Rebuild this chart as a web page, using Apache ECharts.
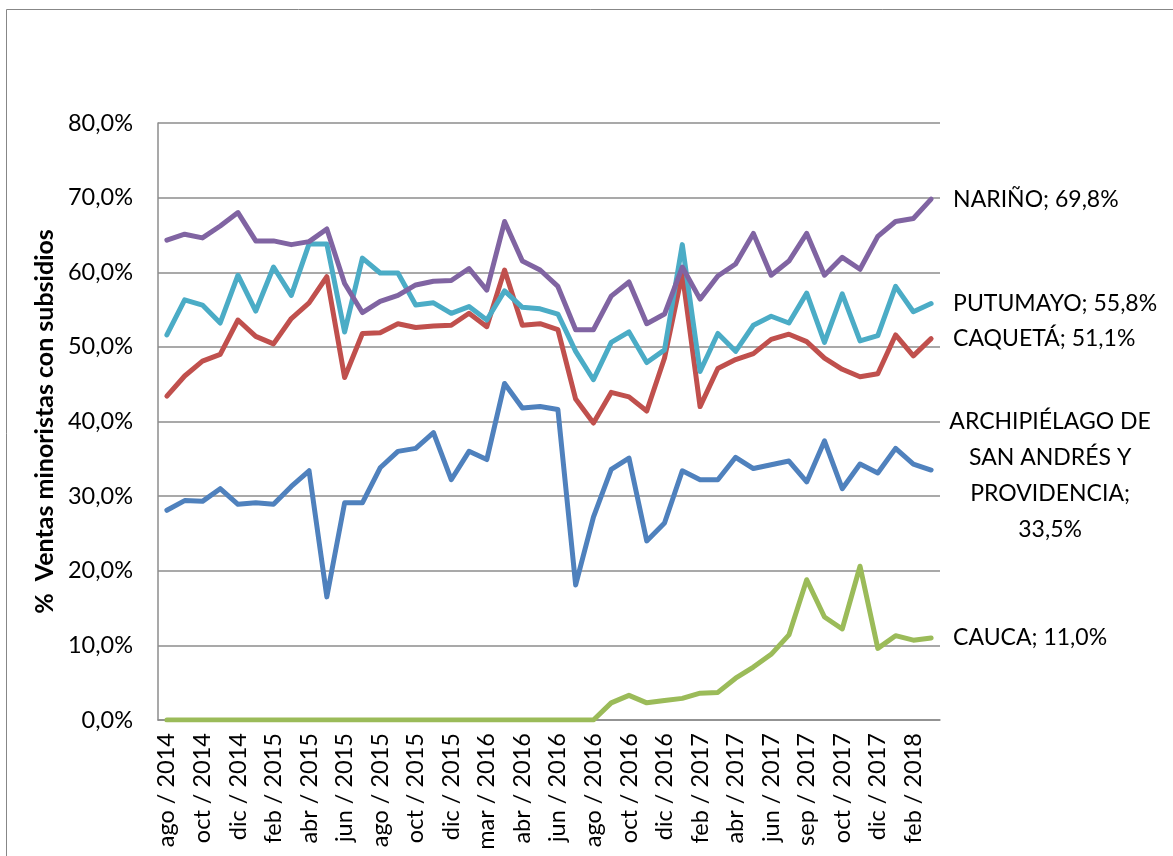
<!DOCTYPE html>
<html>
<head>
<meta charset="utf-8">
<title>Ventas minoristas con subsidios</title>
<script src="https://cdn.jsdelivr.net/npm/echarts@6/dist/echarts.min.js"></script>
<style>
  html, body { margin: 0; padding: 0; background: #fff; }
  #chart { width: 1173px; height: 856px; }
</style>
</head>
<body>
<div id="chart"></div>
<script>
// meses (solo se muestra uno de cada dos)
const months = [
  'ago / 2014', 'sep / 2014', 'oct / 2014', 'nov / 2014', 'dic / 2014', 'ene / 2015',
  'feb / 2015', 'mar / 2015', 'abr / 2015', 'may / 2015', 'jun / 2015', 'jul / 2015',
  'ago / 2015', 'sep / 2015', 'oct / 2015', 'nov / 2015', 'dic / 2015', 'feb / 2016',
  'mar / 2016', 'mar / 2016', 'abr / 2016', 'may / 2016', 'jun / 2016', 'jul / 2016',
  'ago / 2016', 'sep / 2016', 'oct / 2016', 'nov / 2016', 'dic / 2016', 'ene / 2017',
  'feb / 2017', 'mar / 2017', 'abr / 2017', 'may / 2017', 'jun / 2017', 'jul / 2017',
  'sep / 2017', 'sep / 2017', 'oct / 2017', 'nov / 2017', 'dic / 2017', 'ene / 2018',
  'feb / 2018', 'mar / 2018'
];

const narino = [
  64.3, 65.1, 64.6, 66.2, 68.0, 64.2, 64.2, 63.7, 64.1, 65.8, 58.5, 54.6,
  56.1, 56.9, 58.3, 58.8, 58.9, 60.5, 57.6, 66.8, 61.5, 60.3, 58.1, 52.3,
  52.3, 56.8, 58.7, 53.1, 54.4, 60.7, 56.4, 59.5, 61.1, 65.2, 59.6, 61.5,
  65.2, 59.6, 62.0, 60.4, 64.8, 66.8, 67.2, 69.8
];
const putumayo = [
  51.6, 56.3, 55.6, 53.2, 59.6, 54.8, 60.7, 56.9, 63.8, 63.8, 52.0, 61.9,
  59.9, 59.9, 55.6, 55.9, 54.5, 55.4, 53.6, 57.5, 55.3, 55.1, 54.4, 49.4,
  45.6, 50.6, 52.0, 47.9, 49.6, 63.7, 46.7, 51.8, 49.4, 52.9, 54.1, 53.2,
  57.2, 50.6, 57.1, 50.8, 51.5, 58.1, 54.7, 55.8
];
const caqueta = [
  43.4, 46.1, 48.1, 49.0, 53.6, 51.4, 50.4, 53.8, 55.9, 59.4, 45.9, 51.8,
  51.9, 53.1, 52.6, 52.8, 52.9, 54.5, 52.7, 60.3, 52.9, 53.1, 52.3, 43.0,
  39.8, 43.9, 43.3, 41.4, 48.5, 59.8, 42.0, 47.1, 48.3, 49.1, 51.0, 51.7,
  50.7, 48.5, 47.0, 46.0, 46.4, 51.6, 48.8, 51.1
];
const sanAndres = [
  28.1, 29.4, 29.3, 31.0, 28.9, 29.1, 28.9, 31.3, 33.4, 16.5, 29.1, 29.1,
  33.8, 36.0, 36.4, 38.5, 32.2, 36.0, 34.9, 45.1, 41.8, 42.0, 41.6, 18.1,
  27.2, 33.6, 35.1, 24.0, 26.4, 33.4, 32.2, 32.2, 35.2, 33.7, 34.2, 34.7,
  31.9, 37.4, 31.0, 34.3, 33.1, 36.4, 34.3, 33.5
];
const cauca = [
  0, 0, 0, 0, 0, 0, 0, 0, 0, 0, 0, 0,
  0, 0, 0, 0, 0, 0, 0, 0, 0, 0, 0, 0,
  0, 2.3, 3.3, 2.3, 2.6, 2.9, 3.6, 3.7, 5.6, 7.1, 8.8, 11.4,
  18.8, 13.8, 12.2, 20.6, 9.6, 11.3, 10.7, 11.0
];

const yTicks = [0, 10, 20, 30, 40, 50, 60, 70, 80];

const pct = v => v.toFixed(1).replace('.', ',') + '%';
const font = 'Lato';

const chart = echarts.init(document.getElementById('chart'));

const mkSeries = (name, data, color, label, extra) => ({
  name: name,
  type: 'line',
  data: data,
  symbol: 'none',
  smooth: false,
  lineStyle: { color: color, width: 5, cap: 'round', join: 'round' },
  itemStyle: { color: color },
  endLabel: Object.assign({
    show: true,
    formatter: label,
    distance: 22,
    color: '#000',
    fontFamily: font,
    fontSize: 23
  }, extra || {}),
  animation: false
});

chart.setOption({
  animation: false,
  graphic: [{
    type: 'rect',
    shape: { x: 6.5, y: 9.5, width: 1200, height: 900 },
    style: { fill: 'none', stroke: '#878787', lineWidth: 1 },
    silent: true
  }],
  grid: { left: 158, right: 233, top: 123, bottom: 136, containLabel: false },
  xAxis: {
    type: 'category',
    data: months,
    boundaryGap: true,
    axisLine: { lineStyle: { color: '#8c8c8c', width: 1.5 } },
    axisTick: { show: false },
    axisLabel: {
      interval: 1,
      rotate: 90,
      margin: 13,
      color: '#000',
      fontFamily: font,
      fontSize: 23.5
    },
    splitLine: { show: false }
  },
  yAxis: {
    type: 'value',
    min: yTicks[0],
    max: yTicks[yTicks.length - 1],
    interval: 10,
    name: '%  Ventas minoristas con subsidios',
    nameLocation: 'middle',
    nameGap: 99,
    nameTextStyle: { color: '#000', fontFamily: font, fontSize: 25, fontWeight: 'bold' },
    axisLine: { show: true, lineStyle: { color: '#8c8c8c', width: 1.5 } },
    axisTick: { show: false },
    axisLabel: {
      margin: 25,
      color: '#000',
      fontFamily: font,
      fontSize: 23.5,
      formatter: v => pct(v)
    },
    splitLine: { lineStyle: { color: '#8c8c8c', width: 1.5 } }
  },
  series: [
    mkSeries('CAUCA', cauca, '#9BBB59', 'CAUCA; ' + pct(cauca[cauca.length - 1])),
    mkSeries('ARCHIPIÉLAGO DE SAN ANDRÉS Y PROVIDENCIA', sanAndres, '#4F81BD',
      'ARCHIPIÉLAGO DE\nSAN ANDRÉS Y\nPROVIDENCIA;\n' + pct(sanAndres[sanAndres.length - 1]),
      { align: 'center', lineHeight: 36, offset: [97, 6] }),
    mkSeries('CAQUETÁ', caqueta, '#C0504D', 'CAQUETÁ; ' + pct(caqueta[caqueta.length - 1])),
    mkSeries('PUTUMAYO', putumayo, '#4BACC6', 'PUTUMAYO; ' + pct(putumayo[putumayo.length - 1])),
    mkSeries('NARIÑO', narino, '#8064A2', 'NARIÑO; ' + pct(narino[narino.length - 1]))
  ]
});
</script>
</body>
</html>
